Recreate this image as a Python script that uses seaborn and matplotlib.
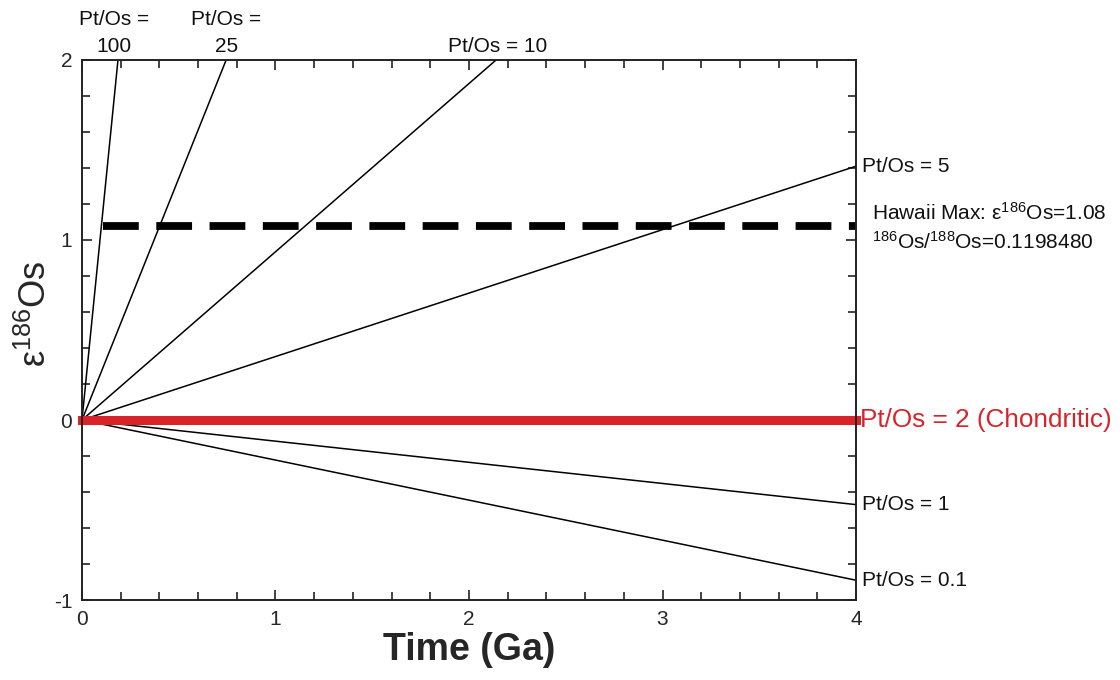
import matplotlib
matplotlib.use("Agg")
import matplotlib.pyplot as plt
from matplotlib.ticker import MultipleLocator
import seaborn as sns
import pandas as pd

# ---- data ----
ratio_labels = ["100", "25", "10", "5", "1", "0.1"]
end_time = [0.186, 0.745, 2.14, 4.0, 4.0, 4.0]      # Ga
end_eps = [2.0, 2.0, 2.0, 1.41, -0.47, -0.89]       # epsilon 186Os
chondritic_eps = 0.0
hawaii_eps = 1.08
hawaii_start = 0.11

sns.set_theme(style="white")
plt.rcParams["font.family"] = ["Liberation Sans", "DejaVu Sans"]
plt.rcParams["mathtext.fontset"] = "custom"
plt.rcParams["mathtext.rm"] = "Liberation Sans"
plt.rcParams["mathtext.it"] = "Liberation Sans:italic"
plt.rcParams["axes.unicode_minus"] = False

fig = plt.figure(figsize=(11.2, 6.8), dpi=100)
ax = fig.add_axes([0.0732, 0.1176, 0.6911, 0.7942])

rows = []
for lab, t, e in zip(ratio_labels, end_time, end_eps):
    rows.append({"t": 0.0, "eps": 0.0, "ratio": lab})
    rows.append({"t": t, "eps": e, "ratio": lab})
df = pd.DataFrame(rows)
sns.lineplot(data=df, x="t", y="eps", units="ratio", estimator=None,
             color="black", lw=1.1, ax=ax, legend=False)

# Hawaii max dashed line
sns.lineplot(x=[hawaii_start, 4.0], y=[hawaii_eps, hawaii_eps], color="black",
             lw=5.6, ax=ax, legend=False)
ax.lines[-1].set_dashes([4.6, 2.25])
ax.lines[-1].set_dash_capstyle("butt")

# Chondritic line
sns.lineplot(x=[0.0, 4.0], y=[chondritic_eps, chondritic_eps], color="#d9232a",
             lw=6.5, ax=ax, legend=False)
ax.lines[-1].set_solid_capstyle("projecting")
ax.lines[-1].set_clip_on(False)

ax.set_xlim(0, 4)
ax.set_ylim(-1, 2)
ax.xaxis.set_major_locator(MultipleLocator(1))
ax.xaxis.set_minor_locator(MultipleLocator(0.2))
ax.yaxis.set_major_locator(MultipleLocator(1))
ax.yaxis.set_minor_locator(MultipleLocator(0.2))
ax.tick_params(which="both", direction="in", top=True, right=True,
               bottom=True, left=True, color="#222222", width=1.2)
ax.tick_params(which="major", length=7, labelsize=15, pad=7)
ax.tick_params(which="minor", length=6)
ax.tick_params(axis="x", which="major", labeltop=False)
for s in ax.spines.values():
    s.set_color("#222222")
    s.set_linewidth(1.4)

ax.set_xlabel("Time (Ga)", fontsize=27, fontweight="bold", labelpad=2)
ax.set_ylabel("ε$^{186}$Os", fontsize=26)
ax.yaxis.set_label_coords(-0.036, 0.53)

# line labels
tx = dict(fontsize=15, color="#111111")
ax.text(4.03, 1.41, "Pt/Os = 5", va="center", ha="left", **tx)
ax.text(4.03, -0.47, "Pt/Os = 1", va="center", ha="left", **tx)
ax.text(4.03, -0.89, "Pt/Os = 0.1", va="center", ha="left", **tx)
ax.text(4.02, 0.0, "Pt/Os = 2 (Chondritic)", va="center", ha="left",
        fontsize=18.8, color="#d9232a")
ax.text(4.085, 1.15, "Hawaii Max: ε$^{186}$Os=1.08", va="center",
        ha="left", **tx)
ax.text(4.085, 0.99, "$^{186}$Os/$^{188}$Os=0.1198480", va="center",
        ha="left", **tx)
ax.text(0.165, 2.02, "Pt/Os =\n100", ha="center", va="bottom",
        linespacing=1.55, **tx)
ax.text(0.745, 2.02, "Pt/Os =\n25", ha="center", va="bottom",
        linespacing=1.55, **tx)
ax.text(2.15, 2.02, "Pt/Os = 10", ha="center", va="bottom", **tx)

fig.savefig("out.png", dpi=100, facecolor="white")
